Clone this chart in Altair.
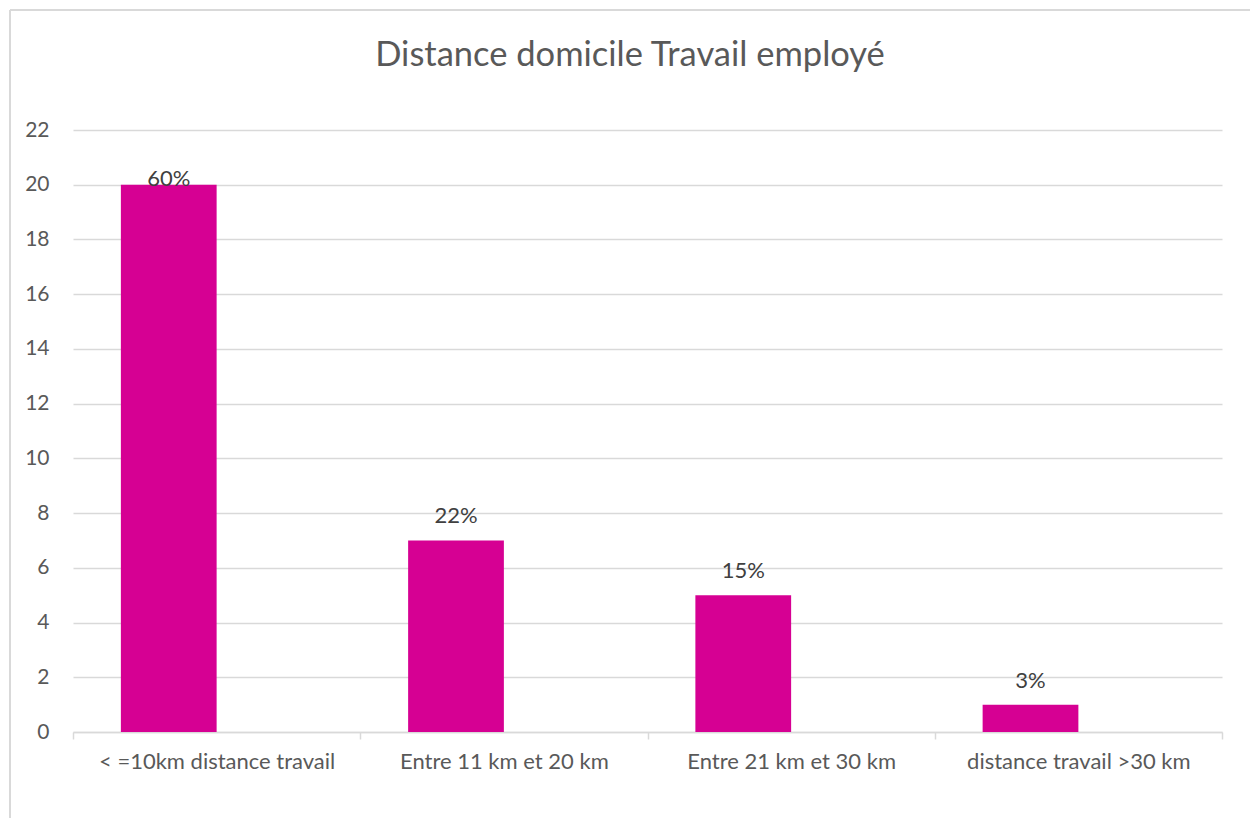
import altair as alt
import pandas as pd

categories = ["< =10km distance travail", "Entre 11 km et 20 km", "Entre 21 km et 30 km", "distance travail >30 km"]
counts = [20, 7, 5, 1]
pct_labels = ["60%", "22%", "15%", "3%"]
y_ticks = [0, 2, 4, 6, 8, 10, 12, 14, 16, 18, 20, 22]
title_text = "Distance domicile Travail employé"

df = pd.DataFrame({"cat": categories, "count": counts, "label": pct_labels, "series": ["A"] * 4})

FONT = "Lato"
GRAY = "#595959"
PINK = "#D60093"

x_enc = alt.X("cat:N", sort=categories, title=None,
              scale=alt.Scale(paddingInner=0, paddingOuter=0),
              axis=alt.Axis(labelAngle=0, tickBand="extent", grid=False, domainColor="#D9D9D9",
                            domainWidth=1.5, tickColor="#D9D9D9", tickWidth=1.5, tickSize=7,
                            labelColor=GRAY, labelFontSize=22, labelFont=FONT, labelPadding=12,
                            labelLimit=0))
xo_enc = alt.XOffset("series:N", scale=alt.Scale(domain=["A", "B"], paddingOuter=0.5, paddingInner=0))

bars = alt.Chart(df).mark_bar(color=PINK).encode(
    x=x_enc,
    xOffset=xo_enc,
    y=alt.Y("count:Q", title=None,
            scale=alt.Scale(domain=[0, 22], nice=False),
            axis=alt.Axis(values=y_ticks, domain=False, ticks=False, gridColor="#D9D9D9",
                          gridWidth=1.5, labelColor=GRAY, labelFontSize=21, labelFont=FONT,
                          labelPadding=24)),
)

text = alt.Chart(df).transform_calculate(
    ly="min(datum.count + 0.88, 20.2)"
).mark_text(color="#404040", fontSize=22, font=FONT, baseline="middle").encode(
    x=alt.X("cat:N", sort=categories),
    xOffset=xo_enc,
    y=alt.Y("ly:Q"),
    text="label:N",
)

title = alt.Chart(pd.DataFrame({"t": [title_text]})).mark_text(
    font=FONT, fontSize=34.5, color=GRAY, baseline="middle", align="center"
).encode(x=alt.value(557), y=alt.value(-74), text="t:N")

border_left = alt.Chart(df).mark_rule(color="#D9D9D9", strokeWidth=1.5).encode(
    x=alt.value(-63), y=alt.value(-120), y2=alt.value(700))
border_top = alt.Chart(df).mark_rule(color="#D9D9D9", strokeWidth=1.5).encode(
    x=alt.value(-63), x2=alt.value(1200), y=alt.value(-120))

chart = alt.layer(border_left, border_top, bars, text, title).properties(
    width=1149, height=602,
    autosize=alt.AutoSizeParams(type="none"),
    padding={"left": 73, "top": 130, "right": 28, "bottom": 86},
).configure_view(stroke=None)

chart.save("out.html", embed_options={"renderer": "svg", "actions": False})
